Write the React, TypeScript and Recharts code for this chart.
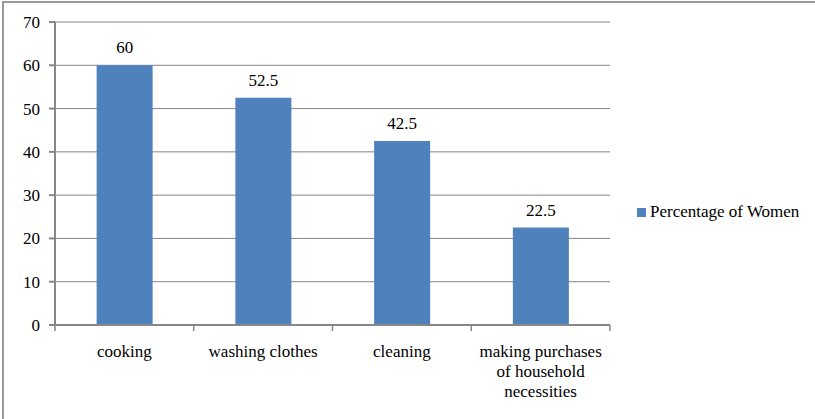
import React from 'react';
import { BarChart, Bar, XAxis, YAxis, CartesianGrid, LabelList, Text } from 'recharts';

const categories = ['cooking', 'washing clothes', 'cleaning', 'making purchases of household necessities'];
const womenPct = [60, 52.5, 42.5, 22.5];
const yTicks = [0, 10, 20, 30, 40, 50, 60, 70];

const data = categories.map((name, i) => ({ name, women: womenPct[i] }));

const FONT = 'Liberation Serif';
const FONT_SIZE = 17;
const BAR_COLOR = '#4F81BD';
const LINE_COLOR = '#878787';

const CategoryTick = ({ x, y, payload }: any) => (
  <Text
    x={x}
    y={y + 12}
    width={122}
    textAnchor="middle"
    verticalAnchor="start"
    lineHeight={20}
    fontFamily={FONT}
    fontSize={FONT_SIZE}
    style={{ fontFamily: FONT, fontSize: FONT_SIZE }}
    fill="#000"
  >
    {payload.value}
  </Text>
);

const App: React.FC = () => {
  return (
    <div style={{ position: 'absolute', left: 0, top: 0, width: 815, height: 419, background: '#fff', fontFamily: FONT }}>
      <div
        style={{
          position: 'absolute',
          left: 2,
          top: 1,
          width: 815,
          height: 430,
          borderLeft: '2px solid #999',
          borderTop: '2px solid #999',
          boxSizing: 'border-box',
        }}
      />
      <BarChart
        width={815}
        height={419}
        data={data}
        margin={{ top: 22, right: 205, bottom: 0, left: 5 }}
        barCategoryGap="30%"
        style={{ fontFamily: FONT }}
      >
        <CartesianGrid vertical={false} stroke={LINE_COLOR} strokeWidth={1} />
        <XAxis
          dataKey="name"
          interval={0}
          stroke={LINE_COLOR}
          strokeWidth={2}
          tickLine={false}
          tick={<CategoryTick />}
          height={94}
        />
        <YAxis
          width={50}
          domain={[0, 70]}
          ticks={yTicks}
          interval={0}
          stroke={LINE_COLOR}
          strokeWidth={2}
          tickSize={6}
          tickMargin={9}
          tick={{ fill: '#000', fontSize: FONT_SIZE, fontFamily: FONT }}
        />
        <Bar dataKey="women" fill={BAR_COLOR} isAnimationActive={false}>
          <LabelList
            dataKey="women"
            position="top"
            offset={12}
            fontFamily={FONT}
            style={{ fill: '#000', fontSize: FONT_SIZE, fontFamily: FONT }}
          />
        </Bar>
      </BarChart>
      {/* category boundary ticks under the x axis */}
      <svg style={{ position: 'absolute', left: 0, top: 0, pointerEvents: 'none' }} width={815} height={419}>
        {[0, 1, 2, 3, 4].map((i) => (
          <line key={i} x1={55 + i * 138.75} x2={55 + i * 138.75} y1={325} y2={331} stroke={LINE_COLOR} strokeWidth={1.5} />
        ))}
      </svg>
      <div
        style={{
          position: 'absolute',
          left: 637,
          top: 202,
          display: 'flex',
          alignItems: 'center',
          fontFamily: FONT,
          fontSize: FONT_SIZE,
          color: '#000',
          whiteSpace: 'nowrap',
        }}
      >
        <span style={{ display: 'inline-block', width: 9, height: 9, background: BAR_COLOR, marginRight: 4 }} />
        Percentage of Women
      </div>
    </div>
  );
};

export default App;
